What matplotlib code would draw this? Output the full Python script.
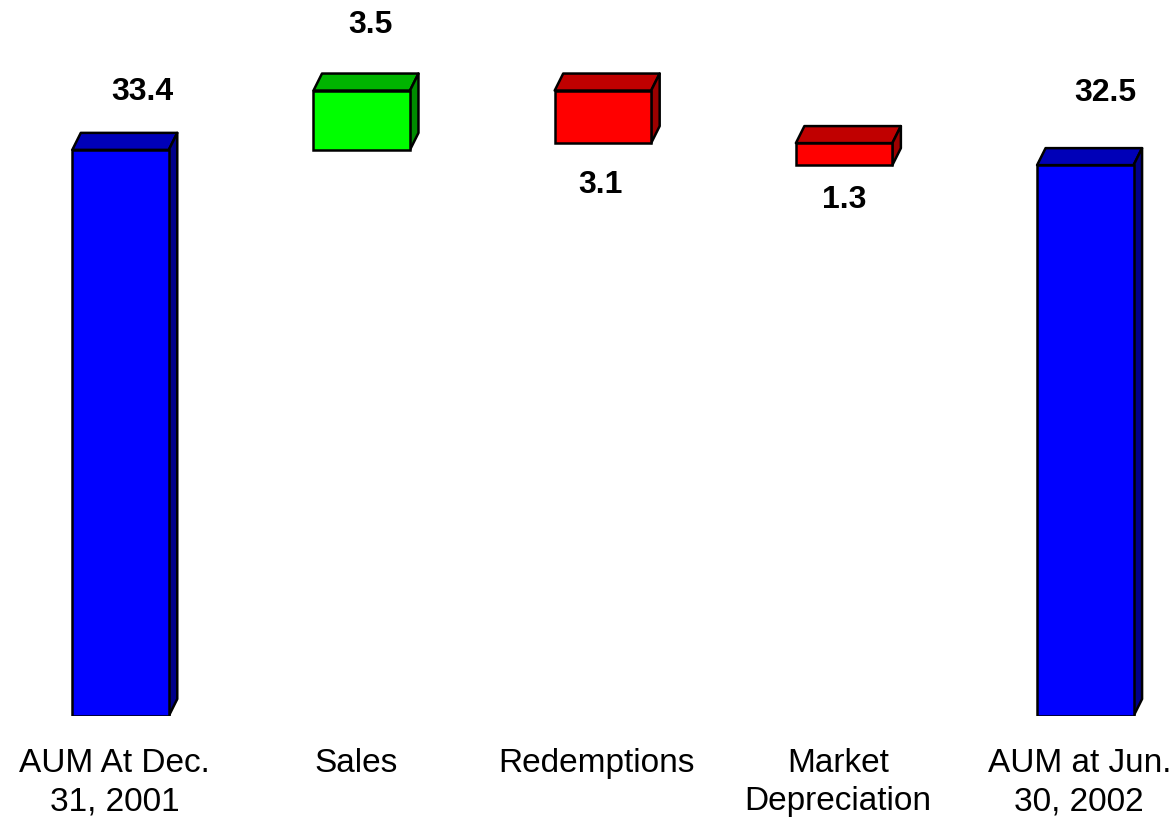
import matplotlib.pyplot as plt
from matplotlib.patches import Polygon

# AUM roll-forward, $ billions
categories = ["AUM At Dec.\n31, 2001", "Sales", "Redemptions",
              "Market\nDepreciation", "AUM at Jun.\n30, 2002"]
start_aum = 33.4
flows = [3.5, -3.1, -1.3]
end_aum = 32.5

plt.rcParams['font.family'] = ['Liberation Sans', 'DejaVu Sans']

# build bottoms / heights for the waterfall
bottoms = [0.0]
heights = [start_aum]
kinds = ['total']
level = start_aum
for f in flows:
    if f >= 0:
        bottoms.append(level)
        heights.append(f)
        kinds.append('up')
    else:
        bottoms.append(level + f)
        heights.append(-f)
        kinds.append('down')
    level += f
bottoms.append(0.0)
heights.append(end_aum)
kinds.append('total')
values = [start_aum] + [abs(f) for f in flows] + [end_aum]

# front, top, side colours
colours = {
    'total': ('#0000ff', '#0000b8', '#00008a'),
    'up': ('#00ff00', '#00b400', '#008c00'),
    'down': ('#ff0000', '#c00000', '#9c0000'),
}

fig = plt.figure(figsize=(11.74, 8.25), dpi=100)
px_per_unit = 16.95
ax = fig.add_axes([0, 109 / 825, 1, 716 / 825])
ax.set_ylim(0, 716 / px_per_unit)
xmin = -114.5 / 241.2
ax.set_xlim(xmin, xmin + 1174 / 241.2)
for s in ax.spines.values():
    s.set_visible(False)
ax.set_yticks([])

shift = 0.025
width = 0.40
dx = 8.5 / 241.2
dy = 17 / px_per_unit
lw = 1.8

for i, (b, h, k) in enumerate(zip(bottoms, heights, kinds)):
    front, top_c, side_c = colours[k]
    x0 = i + shift - width / 2
    x1 = x0 + width
    t = b + h
    top = Polygon([(x0, t), (x0 + dx, t + dy), (x1 + dx, t + dy), (x1, t)],
                  closed=True, facecolor=top_c, edgecolor='black',
                  linewidth=lw, joinstyle='round', zorder=2)
    side = Polygon([(x1, b), (x1 + dx, b + dy), (x1 + dx, t + dy), (x1, t)],
                   closed=True, facecolor=side_c, edgecolor='black',
                   linewidth=lw, joinstyle='round', zorder=2)
    ax.add_patch(top)
    ax.add_patch(side)
    ax.bar(i + shift, h, width=width, bottom=b, color=front,
           edgecolor='black', linewidth=lw, zorder=3)

# value labels (pixel offsets from the bar's front face)
label_dx = [22, 9, -2.5, 0, 20]
label_dy = [57.5, 66, -41.5, -35, 72.5]
for i, (b, h, k, v) in enumerate(zip(bottoms, heights, kinds, values)):
    anchor = b if k == 'down' else b + h
    ax.annotate(f"{v:.1f}", xy=(i + shift, anchor),
                xytext=(label_dx[i] * 0.72, label_dy[i] * 0.72),
                textcoords='offset points', ha='center', va='center',
                fontsize=23, fontweight='bold', annotation_clip=False)

ax.set_xticks(range(len(categories)))
ax.set_xticklabels(categories, fontsize=24)
ax.tick_params(axis='x', length=0, pad=23)
for lab in ax.get_xticklabels():
    lab.set_linespacing(1.3)

fig.savefig('out.png', dpi=100)
